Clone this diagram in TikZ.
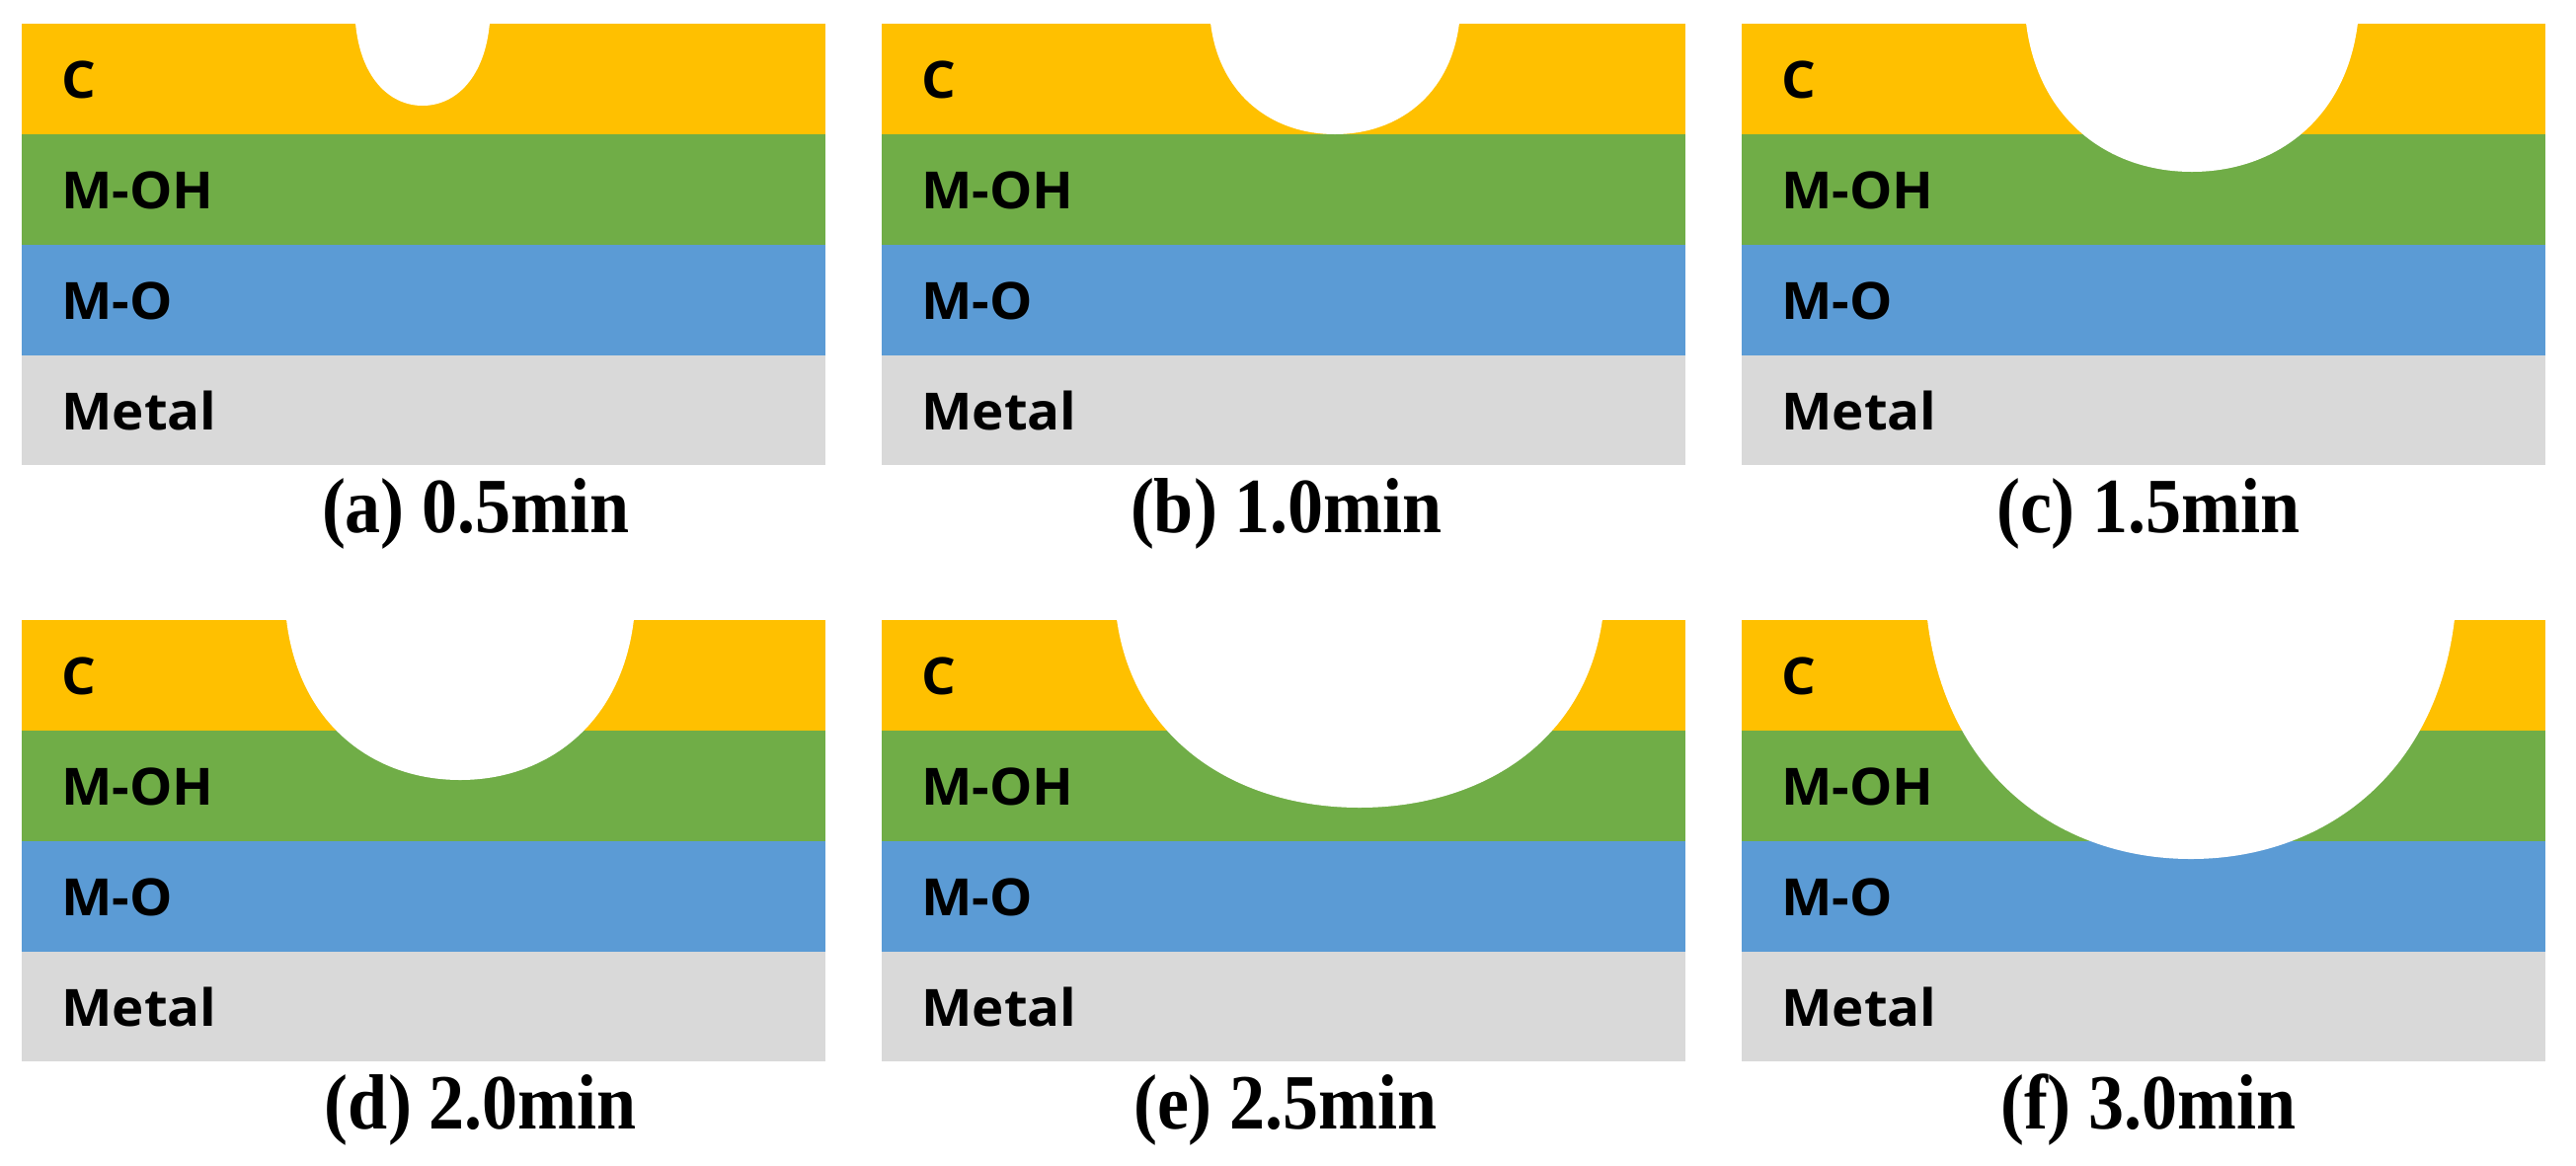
\documentclass[tikz,border=0pt]{standalone}
\usepackage{fontspec}
\setmainfont{Liberation Serif}
\newfontfamily\labelfont{Open Sans}
\definecolor{cLayer}{HTML}{FFC000}
\definecolor{mohLayer}{HTML}{70AD47}
\definecolor{moLayer}{HTML}{5B9BD5}
\definecolor{metalLayer}{HTML}{D9D9D9}
\tikzset{
  layer label/.style={anchor=west,inner sep=0pt,xscale=1.05,font=\labelfont\bfseries\fontsize{26}{26}\selectfont},
  caption/.style={inner sep=0pt,yscale=1.1,font=\bfseries\fontsize{36}{36}\selectfont}
}
% #1 name, #2 left, #3 top, #4 pit centre, #5 pit half width, #6 pit depth, #7 caption x, #8 caption
\newcommand\pitpanel[8]{
    \fill[cLayer]     (#2,#3)     rectangle (#2+814,#3+113);
    \fill[mohLayer]   (#2,#3+112) rectangle (#2+814,#3+225);
    \fill[moLayer]    (#2,#3+224) rectangle (#2+814,#3+337);
    \fill[metalLayer] (#2,#3+336) rectangle (#2+814,#3+447);
    \fill[white] (#2+#4-#5,#3-1)
        .. controls (#2+#4-0.93*#5,#3+0.65*#6) and (#2+#4-0.5*#5,#3+#6) .. (#2+#4,#3+#6)
        .. controls (#2+#4+0.5*#5,#3+#6) and (#2+#4+0.93*#5,#3+0.65*#6) .. (#2+#4+#5,#3-1) -- cycle;
    \node[layer label] (#1c)   at (#2+40,#3+57)  {C};
    \node[layer label] (#1moh) at (#2+40,#3+169) {M-OH};
    \node[layer label] (#1mo)  at (#2+40,#3+281) {M-O};
    \node[layer label] (#1met) at (#2+40,#3+392) {Metal};
    \node[caption]     (#1cap) at (#2+#7,#3+496) {#8};
}
\begin{document}
\begin{tikzpicture}[x=0.5pt,y=-0.5pt]
    \useasboundingbox (0,0) rectangle (2609,1180);
    \pitpanel{a}{22}{24}{406}{68}{83}{460}{(a) 0.5min}
    \pitpanel{b}{893}{24}{459}{126}{112}{410}{(b) 1.0min}
    \pitpanel{c}{1764}{24}{456}{168}{150}{412}{(c) 1.5min}
    \pitpanel{d}{22}{628}{444}{176}{162}{465}{(d) 2.0min}
    \pitpanel{e}{893}{628}{484}{246}{190}{409}{(e) 2.5min}
    \pitpanel{f}{1764}{628}{455}{267}{242}{412}{(f) 3.0min}
\end{tikzpicture}
\end{document}
